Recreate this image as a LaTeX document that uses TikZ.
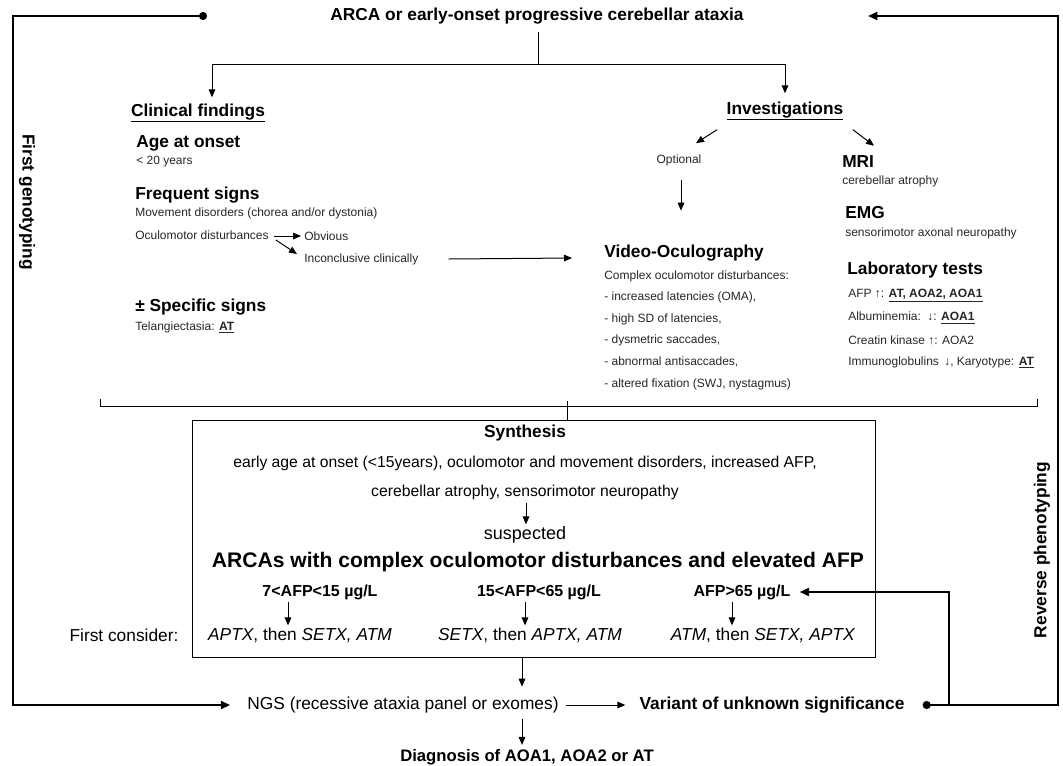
\documentclass[tikz,border=0pt]{standalone}
\usepackage{fontspec}
\setmainfont{Liberation Sans}
\usepackage{tikz}
\usetikzlibrary{calc}
\usetikzlibrary{arrows.meta}
\newcommand{\ulbf}[1]{\underline{\textbf{#1}}}
\newcommand{\fsz}[1]{\fontsize{#1}{#1}\selectfont}
\tikzset{
  txt/.style={inner sep=0pt, anchor=west, text=black!85, font=\fsz{9}},
  head/.style={inner sep=0pt, font=\fsz{13}\bfseries},
  sub/.style={head, anchor=west},
  boxtxt/.style={inner sep=0pt, font=\fsz{11.8}},
  gene/.style={inner sep=0pt, font=\fsz{13}},
  afp/.style={inner sep=0pt, font=\fsz{12}\bfseries},
  arr/.style={line width=0.75pt, -{Triangle[length=6pt,width=5pt]}},
  feedback/.style={line width=1.5pt},
}
\begin{document}
\begin{tikzpicture}[x=0.75pt,y=-0.75pt]
\useasboundingbox (0,0) rectangle (1063,765);
%top
\node[head] (title) at (537,16) {ARCA or early-onset progressive cerebellar ataxia};
\coordinate (split) at (538,64);
\coordinate (ldot) at (207,16);
\coordinate (rtip) at (868,16);
\coordinate (lside) at (13,380);
\coordinate (rside) at (1058,380);
\node[head] (clin) at (198,113) {\underline{Clinical findings}};
\node[head] (inv) at (785,111) {\underline{Investigations}};
\draw[line width=0.75pt] ($(title.south)+(1,8)$) -- (split);
\draw[arr] (split) -| ($(clin.north)+(14,-6)$);
\draw[arr] (split) -| ($(inv.north)+(0,-8)$);
%clinical findings
\node[sub] (age) at (136,143) {Age at onset};
\node[txt] (agev) at (136,162) {< 20 years};
\node[sub] (freq) at (135,195) {Frequent signs};
\node[txt] (mov) at (135,213) {Movement disorders (chorea and/or dystonia)};
\node[txt] (oculo) at (135,235) {Oculomotor disturbances};
\node[txt] (obv) at (304,236) {Obvious};
\node[txt] (inc) at (304,259) {Inconclusive clinically};
\node[sub] (spec) at (135,307) {± Specific signs};
\node[txt] (tel) at (135,327) {Telangiectasia: \ulbf{AT}};
\draw[arr] ($(oculo.east)+(5,1)$) -- ($(obv.west)+(-3,0)$);
\draw[arr] ($(oculo.east)+(7,5)$) -- ($(inc.west)+(-7,-5)$);
%investigations
\node[txt, anchor=center] (opt) at (679,160) {Optional};
\node[sub] (mri) at (842,162) {MRI};
\node[txt] (mriv) at (842,181) {cerebellar atrophy};
\node[sub] (emg) at (845,213) {EMG};
\node[txt] (emgv) at (845,233) {sensorimotor axonal neuropathy};
\draw[arr] ($(inv.south)+(-68,9)$) -- ($(opt.north)+(17,-11)$);
\draw[arr] ($(inv.south)+(68,9)$) -- ($(mri.north west)+(32,-10)$);
\node[sub] (vog) at (604,253) {Video-Oculography};
\foreach \t [count=\i from 0] in {Complex oculomotor disturbances:, {- increased latencies (OMA),}, {- high SD of latencies,},
    {- dysmetric saccades,}, {- abnormal antisaccades,}, {- altered fixation (SWJ, nystagmus)}}
    \node[txt] (vog\i) at (604,{276+21.6*\i}) {\t};
\draw[arr] ($(opt.south)+(2,14)$) -- ($(vog.north west)+(77,-34)$);
\draw[arr] ($(inc.east)+(30,0)$) -- ($(vog.west |- inc.east)+(-32,-1)$);
\node[sub] (lab) at (847,270) {Laboratory tests};
\foreach \t [count=\i from 0] in {{AFP ↑: \ulbf{AT, AOA2, AOA1}}, {Albuminemia:\, ↓: \ulbf{AOA1}},
    {Creatin kinase ↑: AOA2}, {Immunoglobulins\, ↓, Karyotype: \ulbf{AT}}}
    \node[txt] (lab\i) at (848,{296+22*\i}) {\t};
%brace
\coordinate (brc) at (567,406);
\draw[line width=0.75pt] (100,399) -- (100,406) -- (1037,406) -- (1037,399);
%synthesis
\node[draw, line width=0.75pt, inner sep=0pt, minimum width=512.25pt, minimum height=177.75pt] (box) at (533.5,538.5) {};
\draw[line width=0.75pt] ($(brc)+(0,-5)$) -- (brc |- box.north);
\node[inner sep=0pt, font=\fsz{13}\bfseries] (syn) at (525,433) {Synthesis};
\node[boxtxt] (crit1) at (525,463) {early age at onset (<15years), oculomotor and movement disorders, increased AFP,};
\node[boxtxt] (crit2) at (525,492) {cerebellar atrophy, sensorimotor neuropathy};
\node[inner sep=0pt, font=\fsz{13.5}] (susp) at (525,535) {suspected};
\draw[arr] ($(crit2.south)+(1,3)$) -- ($(susp.north)+(1,-2)$);
\node[inner sep=0pt, font=\fsz{15.8}\bfseries] (arcas) at (538,562) {ARCAs with complex oculomotor disturbances and elevated AFP};
\node[afp] (afp1) at (320,592) {7<AFP<15 µg/L};
\node[afp] (afp2) at (539,592) {15<AFP<65 µg/L};
\node[afp] (afp3) at (742,592) {AFP>65 µg/L};
\node[gene] (fc) at (124,635) {First consider:};
\node[gene] (gene1) at (300,635) {\textit{APTX}, then \textit{SETX, ATM}};
\node[gene] (gene2) at (530,635) {\textit{SETX}, then \textit{APTX, ATM}};
\node[gene] (gene3) at (763,635) {\textit{ATM}, then \textit{SETX, APTX}};
\foreach \x/\i in {288/1,525/2,732/3}
    \draw[arr] ($(afp\i.south -| \x,0)+(0,2)$) -- ($(gene\i.north -| \x,0)+(0,-2)$);
%ngs
\node[inner sep=0pt, font=\fsz{13}] (ngs) at (403,705) {NGS (recessive ataxia panel or exomes)};
\node[inner sep=0pt, font=\fsz{13}\bfseries] (var) at (772,705) {Variant of unknown significance};
\node[inner sep=0pt, font=\fsz{12.5}\bfseries] (diag) at (527,757) {Diagnosis of AOA1, AOA2 or AT};
\draw[arr] (box.south -| 522,0) -- ($(ngs.north -| 522,0)+(0,-10)$);
\draw[arr] ($(ngs.south -| 522,0)+(0,6)$) -- ($(diag.north -| 522,0)+(0,-4)$);
\draw[arr] ($(ngs.east)+(7,0)$) -- ($(var.west)+(-14,0)$);
%loops
\coordinate (vjoin) at ($(var.east)+(44,0)$);
\draw[feedback, {Circle[length=6pt]}-{Triangle[length=7pt,width=6pt]}] (ldot) -| (lside) |- ($(ngs.west)+(-17,0)$);
\draw[feedback, {Circle[length=6pt]}-{Triangle[length=7pt,width=6pt]}] ($(var.east)+(18,0)$) -| (rside) |- (rtip);
\draw[feedback, -{Triangle[length=7pt,width=6pt]}] (vjoin) |- ($(afp3.east)+(9,0)$);
\node[head, rotate=-90] (fg) at (27,202) {First genotyping};
\node[head, rotate=90] (rp) at (1042,550) {Reverse phenotyping};
\end{tikzpicture}
\end{document}
